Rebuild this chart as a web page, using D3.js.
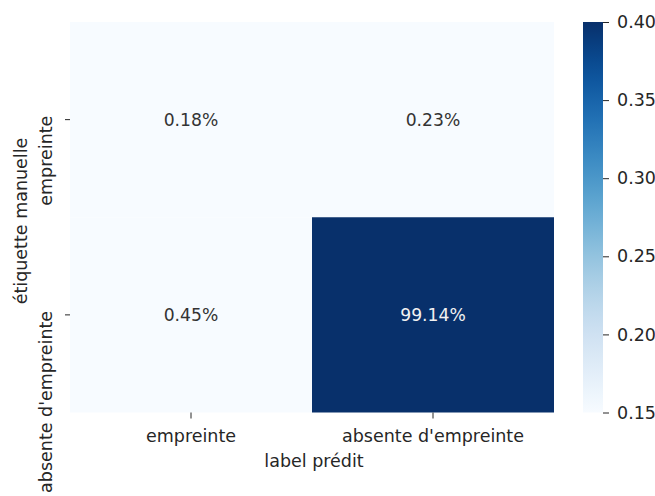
<!DOCTYPE html>
<html><head><meta charset="utf-8">
<script src="https://cdn.jsdelivr.net/npm/d3@7"></script>
<style>
body{margin:0;background:#fff;}
text{font-family:"DejaVu Sans",sans-serif;fill:#262626;}
</style></head>
<body>
<svg id="c" width="655" height="496"></svg>
<script>
const rowLabels = ["empreinte", "absente d'empreinte"];
const colLabels = ["empreinte", "absente d'empreinte"];
const values = [[0.18, 0.23], [0.45, 99.14]]; // percent
const cbarTicks = [0.15, 0.20, 0.25, 0.30, 0.35, 0.40];
const vmin = 0.15, vmax = 0.40;

const svg = d3.select("#c");
const fs = 17.5, fa = 17.2;
const L = 70, R = 554, T = 22, B = 412.5;
const x = d3.scaleBand().domain(colLabels).range([L, R]).padding(0);
const y = d3.scaleBand().domain(rowLabels).range([T, B]).padding(0);
const color = v => d3.interpolateBlues(Math.max(0, Math.min(1, (v - vmin) / (vmax - vmin))));

const cells = [];
rowLabels.forEach((r, i) => colLabels.forEach((c, j) => cells.push({r, c, v: values[i][j]})));

svg.selectAll("rect.cell").data(cells).join("rect").attr("class", "cell")
  .attr("x", d => x(d.c)).attr("y", d => y(d.r))
  .attr("width", x.bandwidth()).attr("height", y.bandwidth())
  .attr("fill", d => color(d.v / 100));

svg.selectAll("text.ann").data(cells).join("text").attr("class", "ann")
  .attr("x", d => x(d.c) + x.bandwidth() / 2)
  .attr("y", d => y(d.r) + y.bandwidth() / 2)
  .attr("text-anchor", "middle").attr("dy", "0.36em")
  .style("font-size", fa + "px")
  .style("fill", d => (d.v / 100) > 0.3 ? "#f2f2f2" : "#333333")
  .text(d => d.v.toFixed(2) + "%");

// x axis
const xa = svg.append("g").attr("transform", `translate(0,${B})`)
  .call(d3.axisBottom(x).tickSize(6).tickPadding(4));
xa.select(".domain").remove();
xa.selectAll("line").attr("stroke", "#262626");
xa.selectAll("text").style("font-size", fs + "px").style("fill", "#262626").attr("font-family", null)
  .attr("y", 29.5).attr("dy", 0);

// y axis
const ya = svg.append("g").attr("transform", `translate(${L},0)`)
  .call(d3.axisLeft(y).tickSize(5).tickFormat(""));
ya.select(".domain").remove();
ya.selectAll("line").attr("stroke", "#262626");
svg.selectAll("text.ylab").data(rowLabels).join("text").attr("class", "ylab")
  .attr("transform", d => `translate(52,${y(d) + y.bandwidth() / 2 - 4}) rotate(-90)`)
  .attr("text-anchor", "end").style("font-size", fs + "px").text(d => d);

svg.append("text").attr("transform", `translate(27,221) rotate(-90)`)
  .attr("text-anchor", "middle").style("font-size", fs + "px").text("étiquette manuelle");
svg.append("text").attr("x", 314).attr("y", 467)
  .attr("text-anchor", "middle").style("font-size", fs + "px").text("label prédit");

// colorbar
const cbX = 583, cbW = 20;
const cy = d3.scaleLinear().domain([vmin, vmax]).range([B, T]);
const defs = svg.append("defs");
const grad = defs.append("linearGradient").attr("id", "g").attr("x1", 0).attr("y1", 1).attr("x2", 0).attr("y2", 0);
d3.range(0, 1.0001, 0.05).forEach(t => grad.append("stop").attr("offset", t).attr("stop-color", d3.interpolateBlues(t)));
svg.append("rect").attr("x", cbX).attr("y", T).attr("width", cbW).attr("height", B - T).attr("fill", "url(#g)");
const ca = svg.append("g").attr("transform", `translate(${cbX + cbW},0)`)
  .call(d3.axisRight(cy).tickValues(cbarTicks).tickFormat(d3.format(".2f")).tickSize(6).tickPadding(8));
ca.select(".domain").remove();
ca.selectAll("line").attr("stroke", "#262626");
ca.selectAll("text").style("font-size", fs + "px").style("fill", "#262626").attr("font-family", null);
</script>
</body></html>
